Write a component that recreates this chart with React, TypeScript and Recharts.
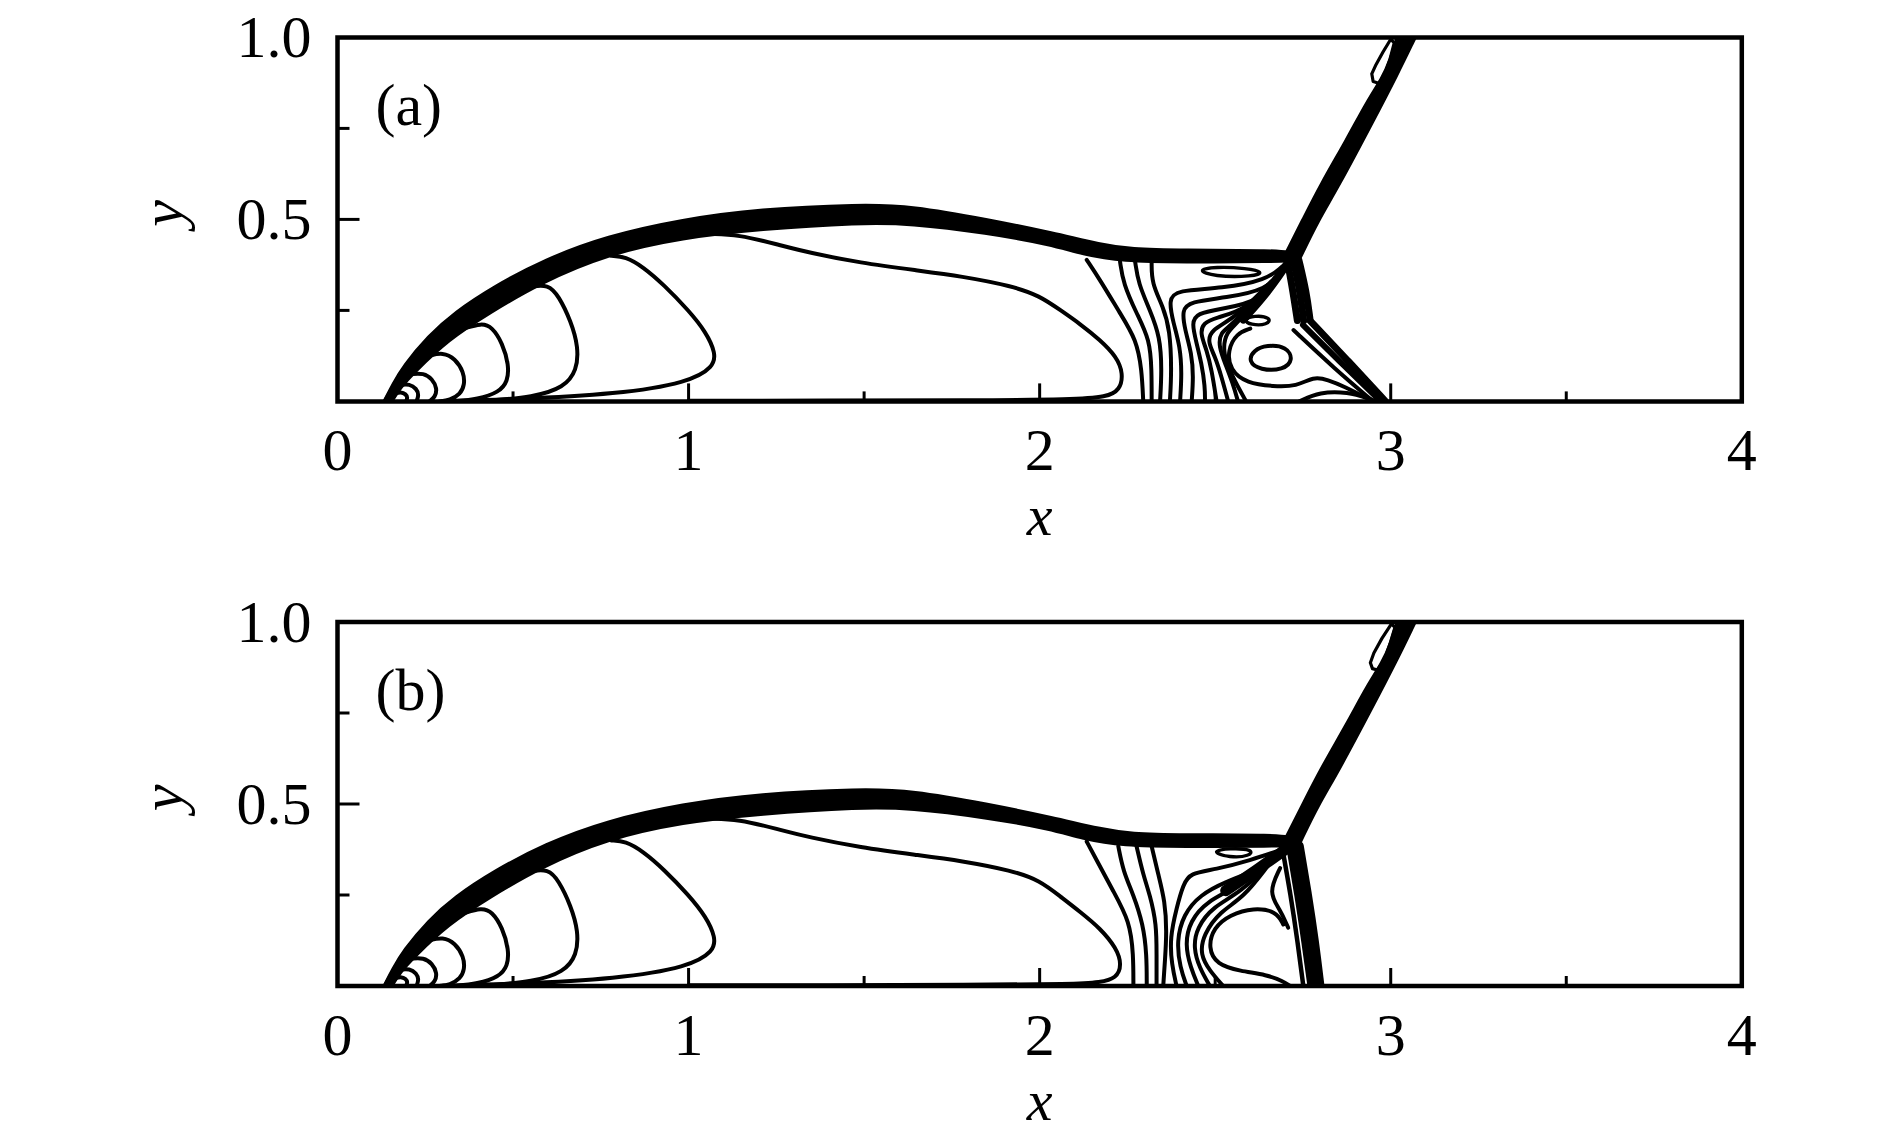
import { LineChart, Line, XAxis, YAxis, ReferenceArea } from 'recharts';

type P = [number, number];

// axis ticks
const xTicks = [0, 0.5, 1, 1.5, 2, 2.5, 3, 3.5, 4];
const yTicks = [0.25, 0.5, 0.75, 1];
const yTickText: Record<string, string> = { '0.5': '0.5', '1': '1.0' };

// ---- contours shared by both panels (nose region + oblique shock) ----
const bowOuter: P[] = [[0.142, 0], [0.165, 0.043], [0.194, 0.092], [0.265, 0.174], [0.337, 0.237], [0.452, 0.31], [0.593, 0.382], [0.768, 0.446], [0.985, 0.492], [1.2, 0.52], [1.49, 0.533], [1.633, 0.529], [1.85, 0.492], [2.04, 0.454], [2.173, 0.423], [2.26, 0.41], [2.4, 0.407], [2.68, 0.407], [2.71, 0.4]];
const bowMid: P[] = [[0.143, 0], [0.168, 0.043], [0.2, 0.087], [0.29, 0.175], [0.38, 0.243], [0.51, 0.322], [0.675, 0.395], [0.87, 0.45], [1.09, 0.487], [1.35, 0.51], [1.56, 0.515], [1.75, 0.498], [1.95, 0.464], [2.1, 0.427], [2.22, 0.403], [2.4, 0.399], [2.68, 0.399], [2.71, 0.397]];
const bowInner: P[] = [[0.145, 0], [0.172, 0.043], [0.21, 0.083], [0.31, 0.176], [0.428, 0.25], [0.574, 0.333], [0.764, 0.412], [0.983, 0.458], [1.2, 0.481], [1.49, 0.499], [1.63, 0.497], [1.85, 0.471], [2.04, 0.438], [2.12, 0.413], [2.24, 0.393], [2.4, 0.391], [2.68, 0.392], [2.71, 0.395]];

const c7: P[] = [[0.165, 0.022], [0.18, 0.026], [0.195, 0.02], [0.2, 0.01], [0.195, 0]];
const c6: P[] = [[0.18, 0.045], [0.205, 0.048], [0.225, 0.035], [0.232, 0.018], [0.225, 0]];
const c5: P[] = [[0.21, 0.075], [0.245, 0.078], [0.27, 0.062], [0.284, 0.035], [0.278, 0.012], [0.262, 0]];
const c4: P[] = [[0.26, 0.125], [0.3, 0.135], [0.335, 0.118], [0.36, 0.08], [0.362, 0.045], [0.35, 0.02], [0.32, 0.003], [0.29, 0]];
const c3: P[] = [[0.36, 0.2], [0.41, 0.215], [0.44, 0.205], [0.47, 0.16], [0.488, 0.1], [0.485, 0.055], [0.46, 0.025], [0.4, 0.006], [0.33, 0]];
const c2: P[] = [[0.55, 0.315], [0.6, 0.322], [0.63, 0.29], [0.665, 0.22], [0.686, 0.15], [0.682, 0.085], [0.645, 0.038], [0.56, 0.012], [0.42, 0.001]];
const c1: P[] = [[0.78, 0.4], [0.82, 0.398], [0.87, 0.37], [0.93, 0.32], [1.0, 0.25], [1.05, 0.19], [1.077, 0.133], [1.072, 0.095], [1.0, 0.052], [0.8, 0.02], [0.5, 0.005], [0.3, 0.001]];

const obliqueL: P[] = [[2.708, 0.405], [2.758, 0.5], [2.805, 0.59], [2.882, 0.718], [2.938, 0.82], [2.982, 0.885], [3.005, 0.935], [3.025, 1.0]];
const obliqueM: P[] = [[2.722, 0.4], [2.773, 0.5], [2.826, 0.59], [2.912, 0.735], [2.97, 0.84], [3.01, 0.92], [3.045, 1.0]];
const obliqueR: P[] = [[2.737, 0.4], [2.787, 0.5], [2.843, 0.59], [2.942, 0.77], [3.012, 0.9], [3.062, 1.0]];

// ---- panel (a) ----
const a_c0: P[] = [[1.06, 0.46], [1.142, 0.458], [1.25, 0.432], [1.344, 0.408], [1.488, 0.381], [1.65, 0.36], [1.777, 0.344], [1.922, 0.317], [2.0, 0.29], [2.06, 0.25], [2.115, 0.213], [2.172, 0.169], [2.219, 0.123], [2.238, 0.077], [2.229, 0.031], [2.19, 0.012], [2.1, 0.005], [1.8, 0.003], [1.4, 0.002], [1.0, 0.002]];
const a_loopTop: P[] = [[3.0, 0.995], [2.978, 0.96], [2.958, 0.925], [2.946, 0.9], [2.95, 0.879], [2.966, 0.874], [2.984, 0.9], [2.998, 0.94], [3.01, 0.985]];
const a_stemL: P[] = [[2.703, 0.4], [2.722, 0.3], [2.734, 0.222]];
const a_stemM: P[] = [[2.72, 0.4], [2.742, 0.3], [2.752, 0.222]];
const a_stemR: P[] = [[2.738, 0.39], [2.76, 0.3], [2.77, 0.226]];
const a_reflU: P[] = [[2.77, 0.222], [2.88, 0.11], [2.985, 0]];
const a_reflM: P[] = [[2.75, 0.21], [2.865, 0.1], [2.972, 0]];
const a_reflL: P[] = [[2.723, 0.196], [2.84, 0.09], [2.95, 0]];
const a_slip: P[] = [[2.705, 0.378], [2.65, 0.3], [2.58, 0.225]];
const a_v2: P[] = [[2.134, 0.389], [2.172, 0.334], [2.229, 0.242], [2.276, 0.169], [2.291, 0.086], [2.295, 0]];
const a_v3: P[] = [[2.229, 0.384], [2.238, 0.324], [2.276, 0.242], [2.314, 0.169], [2.319, 0.086], [2.319, 0]];
const a_v4: P[] = [[2.272, 0.384], [2.281, 0.324], [2.314, 0.251], [2.343, 0.178], [2.348, 0.086], [2.343, 0]];
const a_v5: P[] = [[2.319, 0.384], [2.319, 0.324], [2.352, 0.26], [2.371, 0.196], [2.376, 0.086], [2.371, 0]];
const a_v6: P[] = [[2.69, 0.37], [2.647, 0.334], [2.52, 0.31], [2.39, 0.306], [2.367, 0.279], [2.381, 0.215], [2.4, 0.151], [2.405, 0.077], [2.4, 0]];
const a_v7: P[] = [[2.69, 0.36], [2.647, 0.306], [2.53, 0.285], [2.428, 0.274], [2.405, 0.251], [2.414, 0.196], [2.433, 0.132], [2.438, 0.068], [2.433, 0]];
const a_v8: P[] = [[2.68, 0.35], [2.628, 0.274], [2.52, 0.255], [2.447, 0.242], [2.433, 0.215], [2.447, 0.16], [2.461, 0.105], [2.471, 0.041], [2.471, 0]];
const a_v9: P[] = [[2.67, 0.34], [2.59, 0.251], [2.5, 0.23], [2.466, 0.215], [2.457, 0.187], [2.476, 0.141], [2.49, 0.086], [2.504, 0]];
const a_v10: P[] = [[2.66, 0.33], [2.56, 0.23], [2.485, 0.196], [2.48, 0.16], [2.5, 0.123], [2.518, 0.068], [2.537, 0]];
const a_v11: P[] = [[2.65, 0.32], [2.55, 0.21], [2.514, 0.19], [2.51, 0.15], [2.53, 0.1], [2.55, 0.05], [2.565, 0]];
const a_v12: P[] = [[2.64, 0.31], [2.57, 0.22], [2.53, 0.19], [2.522, 0.14], [2.538, 0.09], [2.565, 0.04], [2.588, 0]];
const a_ring: P[] = [[2.6, 0.2], [2.561, 0.187], [2.535, 0.14], [2.542, 0.086], [2.59, 0.05], [2.666, 0.041], [2.732, 0.041], [2.78, 0.068], [2.82, 0.06], [2.87, 0.04], [2.93, 0.01], [2.95, 0]];
const a_oval: P[] = [[2.609, 0.141], [2.647, 0.155], [2.704, 0.151], [2.723, 0.114], [2.694, 0.086], [2.628, 0.086], [2.594, 0.109]];
const a_blob: P[] = [[2.447, 0.361], [2.5, 0.37], [2.59, 0.366], [2.64, 0.355], [2.609, 0.343], [2.495, 0.343]];
const a_small: P[] = [[2.58, 0.223], [2.61, 0.237], [2.66, 0.23], [2.65, 0.21], [2.6, 0.21]];
const a_base: P[] = [[2.74, 0], [2.797, 0.026], [2.878, 0.026], [2.94, 0.007], [2.96, 0]];

// ---- panel (b) ----
const b_c0: P[] = [[1.06, 0.46], [1.142, 0.458], [1.25, 0.432], [1.344, 0.408], [1.488, 0.381], [1.65, 0.36], [1.777, 0.344], [1.922, 0.317], [2.0, 0.29], [2.06, 0.245], [2.115, 0.204], [2.172, 0.159], [2.219, 0.104], [2.234, 0.058], [2.219, 0.021], [2.172, 0.01], [2.1, 0.005], [1.8, 0.003], [1.4, 0.002], [1.0, 0.002]];
const b_loopTop: P[] = [[3.002, 0.995], [2.975, 0.955], [2.952, 0.915], [2.942, 0.888], [2.948, 0.872], [2.962, 0.868], [2.982, 0.895], [2.998, 0.94], [3.012, 0.985]];
const b_stemL: P[] = [[2.69, 0.385], [2.715, 0.25], [2.735, 0.12], [2.751, 0]];
const b_stemM: P[] = [[2.716, 0.385], [2.74, 0.25], [2.76, 0.12], [2.777, 0]];
const b_stemR: P[] = [[2.738, 0.385], [2.762, 0.25], [2.782, 0.12], [2.797, 0]];
const b_slip: P[] = [[2.7, 0.375], [2.62, 0.32], [2.53, 0.262]];
const b_v2: P[] = [[2.134, 0.397], [2.16, 0.35], [2.21, 0.26], [2.257, 0.177], [2.267, 0.086], [2.267, 0]];
const b_v3: P[] = [[2.224, 0.384], [2.238, 0.315], [2.267, 0.251], [2.295, 0.169], [2.305, 0.086], [2.305, 0]];
const b_v4: P[] = [[2.276, 0.384], [2.295, 0.305], [2.314, 0.251], [2.333, 0.169], [2.333, 0.086], [2.333, 0]];
const b_v5: P[] = [[2.319, 0.384], [2.338, 0.306], [2.357, 0.233], [2.362, 0.15], [2.357, 0.07], [2.352, 0]];
const b_v6: P[] = [[2.69, 0.375], [2.6, 0.345], [2.5, 0.32], [2.428, 0.31], [2.409, 0.279], [2.39, 0.215], [2.371, 0.132], [2.376, 0.06], [2.39, 0]];
const b_v7: P[] = [[2.68, 0.36], [2.6, 0.31], [2.533, 0.288], [2.457, 0.251], [2.409, 0.196], [2.39, 0.123], [2.4, 0.05], [2.419, 0]];
const b_v8: P[] = [[2.67, 0.35], [2.561, 0.27], [2.476, 0.233], [2.428, 0.178], [2.414, 0.114], [2.43, 0.05], [2.452, 0]];
const b_v9: P[] = [[2.66, 0.34], [2.571, 0.256], [2.495, 0.219], [2.447, 0.16], [2.438, 0.105], [2.455, 0.05], [2.485, 0]];
const b_v10: P[] = [[2.65, 0.33], [2.58, 0.242], [2.514, 0.205], [2.466, 0.141], [2.457, 0.086], [2.485, 0.041], [2.523, 0]];
const b_hook: P[] = [[2.694, 0.169], [2.675, 0.205], [2.609, 0.215], [2.542, 0.196], [2.495, 0.16], [2.48, 0.105], [2.504, 0.059], [2.571, 0.041], [2.647, 0.031], [2.694, 0.013], [2.713, 0]];
const b_vee: P[] = [[2.685, 0.324], [2.651, 0.256], [2.685, 0.21], [2.708, 0.16]];
const b_blob: P[] = [[2.485, 0.37], [2.542, 0.352], [2.599, 0.357], [2.609, 0.375], [2.542, 0.379]];

type S = { pts: P[]; w: number; closed?: boolean; lin?: boolean };

const T = 4; // thin contour width

const common: S[] = [
  { pts: bowOuter, w: 9 }, { pts: bowMid, w: 9 }, { pts: bowInner, w: 9 },
  { pts: c1, w: T }, { pts: c2, w: T }, { pts: c3, w: T }, { pts: c4, w: T },
  { pts: c5, w: T }, { pts: c6, w: T }, { pts: c7, w: T },
  { pts: obliqueL, w: 8 }, { pts: obliqueM, w: 9 }, { pts: obliqueR, w: 8 },
];

const seriesA: S[] = [
  ...common,
  { pts: a_c0, w: T }, { pts: a_loopTop, w: 3.2, closed: true, lin: true },
  { pts: a_stemL, w: 7 }, { pts: a_stemM, w: 7 }, { pts: a_stemR, w: 7 },
  { pts: a_reflU, w: 7 }, { pts: a_reflM, w: 6 }, { pts: a_reflL, w: 4 },
  { pts: a_slip, w: 8 },
  { pts: a_v2, w: T }, { pts: a_v3, w: T }, { pts: a_v4, w: T }, { pts: a_v5, w: T },
  { pts: a_v6, w: T }, { pts: a_v7, w: T }, { pts: a_v8, w: T }, { pts: a_v9, w: T },
  { pts: a_v10, w: T }, { pts: a_v11, w: T }, { pts: a_v12, w: T }, { pts: a_ring, w: T },
  { pts: a_oval, w: T, closed: true }, { pts: a_blob, w: 3.4, closed: true },
  { pts: a_small, w: 3.4, closed: true }, { pts: a_base, w: T },
];

const seriesB: S[] = [
  ...common,
  { pts: b_c0, w: T }, { pts: b_loopTop, w: 3.2, closed: true, lin: true },
  { pts: b_stemL, w: 4.5 }, { pts: b_stemM, w: 10 }, { pts: b_stemR, w: 10 },
  { pts: b_slip, w: 11 },
  { pts: b_v2, w: T }, { pts: b_v3, w: T }, { pts: b_v4, w: T }, { pts: b_v5, w: T },
  { pts: b_v6, w: T }, { pts: b_v7, w: T }, { pts: b_v8, w: T }, { pts: b_v9, w: T },
  { pts: b_v10, w: T }, { pts: b_hook, w: T }, { pts: b_vee, w: T },
  { pts: b_blob, w: 3.4, closed: true },
];

const FONT = '"Liberation Serif", "Times New Roman", serif';

const XTick = (p: any) => {
  const v = p.payload.value;
  const major = Number.isInteger(v);
  const showLine = v > 0 && v < 4;
  return (
    <g>
      {showLine && <line x1={p.x} x2={p.x} y1={p.y} y2={p.y - (major ? 18 : 10)} stroke="#000" strokeWidth={3} />}
      {major && (
        <text x={p.x} y={p.y + 69} textAnchor="middle" fontFamily={FONT} fontSize={60} fill="#000">
          {v}
        </text>
      )}
    </g>
  );
};

const YTick = (p: any) => {
  const v = p.payload.value;
  const label = yTickText[String(v)];
  return (
    <g>
      {v < 1 && <line x1={p.x} x2={p.x + (label ? 22 : 12)} y1={p.y} y2={p.y} stroke="#000" strokeWidth={3} />}
      {label && (
        <text x={p.x - 26} y={p.y + 20} textAnchor="end" fontFamily={FONT} fontSize={60} fill="#000">
          {label}
        </text>
      )}
    </g>
  );
};

function Panel({ series, tag, top, mt, H }: { series: S[]; tag: string; top: number; mt: number; H: number }) {
  const plotH = 364;
  return (
    <div style={{ position: 'absolute', left: 0, top }}>
      <LineChart width={1874} height={H} margin={{ top: mt, right: 132.2, bottom: H - mt - plotH - 100, left: 237.5 }}>
        <XAxis
          type="number" dataKey="x" domain={[0, 4]} ticks={xTicks} interval={0} allowDataOverflow
          axisLine={false} tickLine={false} tickSize={0} tickMargin={0} height={100}
          tick={(p: any) => <XTick {...p} />}
          label={{
            content: (lp: any) => (
              <text x={lp.viewBox.x + lp.viewBox.width / 2} y={lp.viewBox.y + 134} textAnchor="middle"
                fontFamily={FONT} fontStyle="italic" fontSize={58} fill="#000">x</text>
            ),
          }}
        />
        <YAxis
          type="number" domain={[0, 1]} ticks={yTicks} interval={0} allowDataOverflow
          axisLine={false} tickLine={false} tickSize={0} tickMargin={0} width={100}
          tick={(p: any) => <YTick {...p} />}
          label={{
            content: (lp: any) => {
              const cx = lp.viewBox.x + lp.viewBox.width - 155.5;
              const cy = lp.viewBox.y + lp.viewBox.height / 2 - 6;
              return (
                <text x={cx} y={cy} transform={`rotate(-90, ${cx}, ${cy})`} textAnchor="middle"
                  fontFamily={FONT} fontStyle="italic" fontSize={60} fill="#000">y</text>
              );
            },
          }}
        />
        <ReferenceArea
          x1={0} x2={4} y1={0} y2={1} fill="none" fillOpacity={0} stroke="#000" strokeWidth={4.5} ifOverflow="visible"
          label={{
            content: (lp: any) => (
              <text x={lp.viewBox.x + 38} y={lp.viewBox.y + 88} fontFamily={FONT} fontSize={60} fill="#000">{tag}</text>
            ),
          }}
        />
        {series.map((s, i) => (
          <Line
            key={i}
            data={s.pts.map(([x, y]) => ({ x, y }))}
            dataKey="y"
            type={s.closed ? (s.lin ? 'linearClosed' : 'basisClosed') : 'basis'}
            stroke="#000"
            strokeWidth={s.w}
            strokeLinecap="round"
            strokeLinejoin="round"
            dot={false}
            activeDot={false}
            isAnimationActive={false}
          />
        ))}
      </LineChart>
    </div>
  );
}

export default function App() {
  return (
    <div style={{ position: 'relative', top: -8, left: -8, width: 1874, height: 1132, background: '#fff' }}>
      <Panel series={seriesA} tag="(a)" top={0} mt={37.4} H={572} />
      <Panel series={seriesB} tag="(b)" top={572} mt={50} H={560} />
    </div>
  );
}
